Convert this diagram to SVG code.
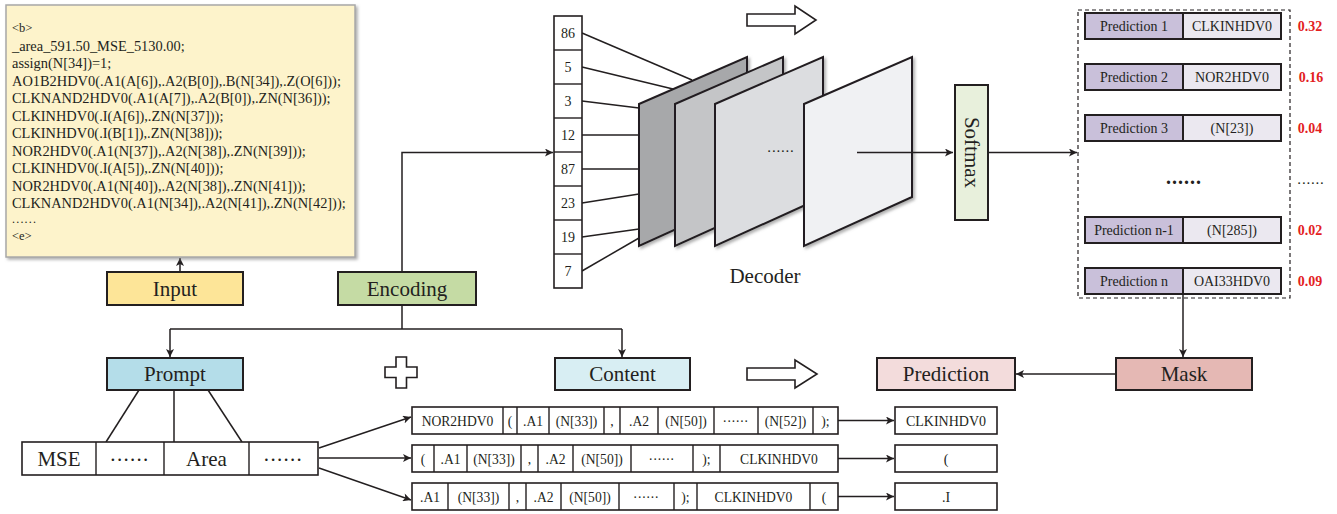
<svg xmlns="http://www.w3.org/2000/svg" width="1337" height="514" viewBox="0 0 1337 514">
<defs>
<style>
.box{stroke:#231f20;stroke-width:2}
.cell{fill:#ffffff;stroke:#231f20;stroke-width:1.6}
.div{stroke:#231f20;stroke-width:1.4}
.conn{fill:none;stroke:#231f20;stroke-width:1.5}
.t{font-family:"Liberation Serif","Times New Roman",serif;fill:#231f20}
.c{text-anchor:middle}
.f21{font-size:21px}
.f14{font-size:14px}
.f13{font-size:13.6px}
.code{font-size:14.4px}
.val{font-size:14px;font-weight:bold;fill:#e3211e;text-anchor:middle}
.plane{stroke:#231f20;stroke-width:2;stroke-linejoin:miter}
.hollow{fill:#ffffff;stroke:#231f20;stroke-width:1.6}
.pl{fill:#c9c0da;stroke:#231f20;stroke-width:2}
.pr{fill:#ebe8f0;stroke:#231f20;stroke-width:2}
</style>
<marker id="ah" viewBox="0 0 10 10" refX="10" refY="5" markerWidth="9" markerHeight="8" markerUnits="userSpaceOnUse" orient="auto">
<path d="M0,0 L10,5 L0,10 L2.5,5 z" fill="#231f20"/>
</marker>
<filter id="sh" x="-5%" y="-5%" width="115%" height="115%">
<feDropShadow dx="2" dy="2" stdDeviation="1.5" flood-color="#7a7a7a" flood-opacity="0.6"/>
</filter>
</defs>
<rect width="1337" height="514" fill="#ffffff"/>

<!-- connectors -->
<g id="connectors">
<path class="conn" d="M180,272 V258" marker-end="url(#ah)"/>
<path class="conn" d="M402,272 V152.5 H553" marker-end="url(#ah)"/>
<path class="conn" d="M402,305 V329"/>
<path class="conn" d="M170,329 H622"/>
<path class="conn" d="M170,329 V357" marker-end="url(#ah)"/>
<path class="conn" d="M622,329 V357" marker-end="url(#ah)"/>
<path class="conn" d="M139,390 L106,442"/>
<path class="conn" d="M174,390 V442"/>
<path class="conn" d="M208,390 L242,442"/>
<path class="conn" d="M319,448 L411,417" marker-end="url(#ah)"/>
<path class="conn" d="M319,458 H411" marker-end="url(#ah)"/>
<path class="conn" d="M319,468 L411,500" marker-end="url(#ah)"/>
<path class="conn" d="M582,33 L692,80"/>
<path class="conn" d="M582,67 L673,89"/>
<path class="conn" d="M582,101 L639,108"/>
<path class="conn" d="M582,135 H639"/>
<path class="conn" d="M582,169 H639"/>
<path class="conn" d="M582,203 L639,194"/>
<path class="conn" d="M582,237 L639,229"/>
<path class="conn" d="M582,271 L639,238"/>
<path class="conn" d="M988,152.5 H1077" marker-end="url(#ah)"/>
<path class="conn" d="M1183,295 V357" marker-end="url(#ah)"/>
<path class="conn" d="M1116,374 H1016" marker-end="url(#ah)"/>
<path class="conn" d="M838,420.5 H894" marker-end="url(#ah)"/>
<path class="conn" d="M838,458.5 H894" marker-end="url(#ah)"/>
<path class="conn" d="M838,496.5 H894" marker-end="url(#ah)"/>
</g>

<!-- source code box -->
<g id="code">
<rect x="6" y="5" width="349" height="252" fill="#fdf3cb" stroke="#a8a8a8" stroke-width="1.5" filter="url(#sh)"/>
<text class="t" x="12" y="32" font-size="12.5">&lt;b&gt;</text>
<text class="t code" x="12" y="50.5">_area_591.50_MSE_5130.00;</text>
<text class="t code" x="12" y="68">assign(N[34])=1;</text>
<text class="t code" x="12" y="85.5">AO1B2HDV0(.A1(A[6]),.A2(B[0]),.B(N[34]),.Z(O[6]));</text>
<text class="t code" x="12" y="103">CLKNAND2HDV0(.A1(A[7]),.A2(B[0]),.ZN(N[36]));</text>
<text class="t code" x="12" y="120.5">CLKINHDV0(.I(A[6]),.ZN(N[37]));</text>
<text class="t code" x="12" y="138">CLKINHDV0(.I(B[1]),.ZN(N[38]));</text>
<text class="t code" x="12" y="155.5">NOR2HDV0(.A1(N[37]),.A2(N[38]),.ZN(N[39]));</text>
<text class="t code" x="12" y="173">CLKINHDV0(.I(A[5]),.ZN(N[40]));</text>
<text class="t code" x="12" y="190.5">NOR2HDV0(.A1(N[40]),.A2(N[38]),.ZN(N[41]));</text>
<text class="t code" x="12" y="208">CLKNAND2HDV0(.A1(N[34]),.A2(N[41]),.ZN(N[42]));</text>
<text class="t" x="12" y="222.5" font-size="12" letter-spacing="1.2">......</text>
<text class="t" x="12" y="240" font-size="12.5">&lt;e&gt;</text>
</g>

<g id="input">
<rect class="box" x="107" y="272" width="136" height="33" fill="#fde598"/>
<text class="t c f21" x="175" y="296">Input</text>
</g>
<g id="encoding">
<rect class="box" x="338" y="272" width="138" height="33" fill="#c5dba4"/>
<text class="t c f21" x="407" y="296">Encoding</text>
</g>
<g id="prompt">
<rect class="box" x="107" y="358" width="136" height="32" fill="#b4dde9"/>
<text class="t c f21" x="175" y="381">Prompt</text>
</g>
<g id="content">
<rect class="box" x="555" y="358" width="135" height="32" fill="#d8eef3"/>
<text class="t c f21" x="622.5" y="381">Content</text>
</g>
<g id="prediction">
<rect class="box" x="877" y="358" width="138" height="32" fill="#f3dcdc"/>
<text class="t c f21" x="946" y="381">Prediction</text>
</g>
<g id="mask">
<rect class="box" x="1116" y="358" width="136" height="32" fill="#e5b8b4"/>
<text class="t c f21" x="1184" y="381">Mask</text>
</g>

<g id="plus">
<path class="hollow" d="M396,357 H406.5 V367 H417 V377.5 H406.5 V388 H396 V377.5 H385 V367 H396 Z"/>
</g>
<g id="arrow-top">
<path class="hollow" d="M747,14 H795 V6 L816,20 L795,34 V26 H747 Z"/>
</g>
<g id="arrow-mid">
<path class="hollow" d="M747,368 H795 V360 L817,374 L795,388 V380 H747 Z"/>
</g>

<g id="prompt-row">
<rect class="cell" x="22" y="442" width="296" height="33"/>
<line class="div" x1="96" y1="442" x2="96" y2="475"/>
<line class="div" x1="164" y1="442" x2="164" y2="475"/>
<line class="div" x1="249" y1="442" x2="249" y2="475"/>
<text class="t c f21" x="59" y="466">MSE</text>
<text class="t c f21" x="130" y="460.5" letter-spacing="1.3">......</text>
<text class="t c f21" x="206.5" y="466">Area</text>
<text class="t c f21" x="283.5" y="460.5" letter-spacing="1.3">......</text>
</g>

<g id="tokens">
<rect class="cell" x="554" y="16" width="28" height="272"/>
<line class="div" x1="554" y1="50" x2="582" y2="50"/>
<line class="div" x1="554" y1="84" x2="582" y2="84"/>
<line class="div" x1="554" y1="118" x2="582" y2="118"/>
<line class="div" x1="554" y1="152" x2="582" y2="152"/>
<line class="div" x1="554" y1="186" x2="582" y2="186"/>
<line class="div" x1="554" y1="220" x2="582" y2="220"/>
<line class="div" x1="554" y1="254" x2="582" y2="254"/>
<text class="t c f14" x="568" y="38">86</text>
<text class="t c f14" x="568" y="72">5</text>
<text class="t c f14" x="568" y="106">3</text>
<text class="t c f14" x="568" y="140">12</text>
<text class="t c f14" x="568" y="174">87</text>
<text class="t c f14" x="568" y="208">23</text>
<text class="t c f14" x="568" y="242">19</text>
<text class="t c f14" x="568" y="276">7</text>
</g>

<g id="decoder">
<polygon class="plane" points="639,104 747,57 747,197 639,246" fill="#a7a8aa" filter="url(#sh)"/>
<polygon class="plane" points="675,104 783,57 783,197 675,246" fill="#c4c5c7" filter="url(#sh)"/>
<polygon class="plane" points="715,104 823,57 823,197 715,246" fill="#dcdde0" filter="url(#sh)"/>
<text class="t c" x="781" y="152" font-size="15" letter-spacing="0.8">......</text>
<polygon class="plane" points="804,104 912,57 912,197 804,246" fill="#f0f1f3" filter="url(#sh)"/>
<path class="conn" d="M857,152.5 H953" marker-end="url(#ah)"/>
<text class="t c f21" x="765" y="283">Decoder</text>
</g>

<g id="softmax">
<rect class="box" x="955" y="85" width="33" height="135" fill="#e8f0dc"/>
<text class="t c f21" transform="translate(964.5,152.5) rotate(90)" x="0" y="0">Softmax</text>
</g>

<g id="predictions">
<rect x="1078" y="10" width="212" height="288" fill="none" stroke="#231f20" stroke-width="1.2" stroke-dasharray="4,3"/>
<rect class="pl" x="1085" y="13" width="98" height="26"/><rect class="pr" x="1183" y="13" width="98" height="26"/>
<text class="t c f14" x="1134" y="31">Prediction 1</text><text class="t c f14" x="1232" y="31">CLKINHDV0</text>
<text class="val t" x="1310" y="31">0.32</text>
<rect class="pl" x="1085" y="64" width="98" height="26"/><rect class="pr" x="1183" y="64" width="98" height="26"/>
<text class="t c f14" x="1134" y="82">Prediction 2</text><text class="t c f14" x="1232" y="82">NOR2HDV0</text>
<text class="val t" x="1311" y="82">0.16</text>
<rect class="pl" x="1085" y="115" width="98" height="26"/><rect class="pr" x="1183" y="115" width="98" height="26"/>
<text class="t c f14" x="1134" y="133">Prediction 3</text><text class="t c f14" x="1232" y="133">(N[23])</text>
<text class="val t" x="1310" y="133">0.04</text>
<text class="t c" x="1184" y="184" font-size="20" font-weight="bold" letter-spacing="1">......</text>
<text class="t c" x="1311" y="184" font-size="15" letter-spacing="0.8">......</text>
<rect class="pl" x="1085" y="217" width="98" height="26"/><rect class="pr" x="1183" y="217" width="98" height="26"/>
<text class="t c f14" x="1134" y="235">Prediction n-1</text><text class="t c f14" x="1232" y="235">(N[285])</text>
<text class="val t" x="1310" y="235">0.02</text>
<rect class="pl" x="1085" y="268" width="98" height="26"/><rect class="pr" x="1183" y="268" width="98" height="26"/>
<text class="t c f14" x="1134" y="286">Prediction n</text><text class="t c f14" x="1232" y="286">OAI33HDV0</text>
<text class="val t" x="1310" y="286">0.09</text>
</g>

<g id="seq1">
<rect class="cell" x="412" y="407" width="426" height="27"/>
<line class="div" x1="503" y1="407" x2="503" y2="434"/>
<line class="div" x1="517" y1="407" x2="517" y2="434"/>
<line class="div" x1="549" y1="407" x2="549" y2="434"/>
<line class="div" x1="604" y1="407" x2="604" y2="434"/>
<line class="div" x1="620" y1="407" x2="620" y2="434"/>
<line class="div" x1="658" y1="407" x2="658" y2="434"/>
<line class="div" x1="714" y1="407" x2="714" y2="434"/>
<line class="div" x1="758" y1="407" x2="758" y2="434"/>
<line class="div" x1="813" y1="407" x2="813" y2="434"/>
<text class="t c f13" x="457.5" y="425.5">NOR2HDV0</text>
<text class="t c f13" x="510" y="425.5">(</text>
<text class="t c f13" x="533" y="425.5">.A1</text>
<text class="t c f13" x="576.5" y="425.5">(N[33])</text>
<text class="t c f13" x="612" y="425.5">,</text>
<text class="t c f13" x="639" y="425.5">.A2</text>
<text class="t c f13" x="686" y="425.5">(N[50])</text>
<text class="t c f13" x="736" y="422" letter-spacing="0.9">......</text>
<text class="t c f13" x="785.5" y="425.5">(N[52])</text>
<text class="t c f13" x="825.5" y="425.5">);</text>
</g>
<g id="seq2">
<rect class="cell" x="412" y="445" width="426" height="27"/>
<line class="div" x1="434" y1="445" x2="434" y2="472"/>
<line class="div" x1="467" y1="445" x2="467" y2="472"/>
<line class="div" x1="521" y1="445" x2="521" y2="472"/>
<line class="div" x1="538" y1="445" x2="538" y2="472"/>
<line class="div" x1="573" y1="445" x2="573" y2="472"/>
<line class="div" x1="631" y1="445" x2="631" y2="472"/>
<line class="div" x1="693" y1="445" x2="693" y2="472"/>
<line class="div" x1="720" y1="445" x2="720" y2="472"/>
<text class="t c f13" x="423" y="463.5">(</text>
<text class="t c f13" x="450.5" y="463.5">.A1</text>
<text class="t c f13" x="494" y="463.5">(N[33])</text>
<text class="t c f13" x="529.5" y="463.5">,</text>
<text class="t c f13" x="555.5" y="463.5">.A2</text>
<text class="t c f13" x="602" y="463.5">(N[50])</text>
<text class="t c f13" x="662" y="460" letter-spacing="0.9">......</text>
<text class="t c f13" x="706.5" y="463.5">);</text>
<text class="t c f13" x="779" y="463.5">CLKINHDV0</text>
</g>
<g id="seq3">
<rect class="cell" x="412" y="483" width="426" height="27"/>
<line class="div" x1="448" y1="483" x2="448" y2="510"/>
<line class="div" x1="509" y1="483" x2="509" y2="510"/>
<line class="div" x1="526" y1="483" x2="526" y2="510"/>
<line class="div" x1="561" y1="483" x2="561" y2="510"/>
<line class="div" x1="619" y1="483" x2="619" y2="510"/>
<line class="div" x1="674" y1="483" x2="674" y2="510"/>
<line class="div" x1="697" y1="483" x2="697" y2="510"/>
<line class="div" x1="810" y1="483" x2="810" y2="510"/>
<text class="t c f13" x="430" y="501.5">.A1</text>
<text class="t c f13" x="478.5" y="501.5">(N[33])</text>
<text class="t c f13" x="517.5" y="501.5">,</text>
<text class="t c f13" x="543.5" y="501.5">.A2</text>
<text class="t c f13" x="590" y="501.5">(N[50])</text>
<text class="t c f13" x="646.5" y="498" letter-spacing="0.9">......</text>
<text class="t c f13" x="685.5" y="501.5">);</text>
<text class="t c f13" x="753.5" y="501.5">CLKINHDV0</text>
<text class="t c f13" x="824" y="501.5">(</text>
</g>
<g id="out1">
<rect class="cell" x="895" y="407" width="102" height="27"/>
<text class="t c f14" x="946" y="425.5">CLKINHDV0</text>
</g>
<g id="out2">
<rect class="cell" x="895" y="445" width="102" height="27"/>
<text class="t c f14" x="946" y="463.5">(</text>
</g>
<g id="out3">
<rect class="cell" x="895" y="483" width="102" height="27"/>
<text class="t c f14" x="946" y="501.5">.I</text>
</g>
</svg>
